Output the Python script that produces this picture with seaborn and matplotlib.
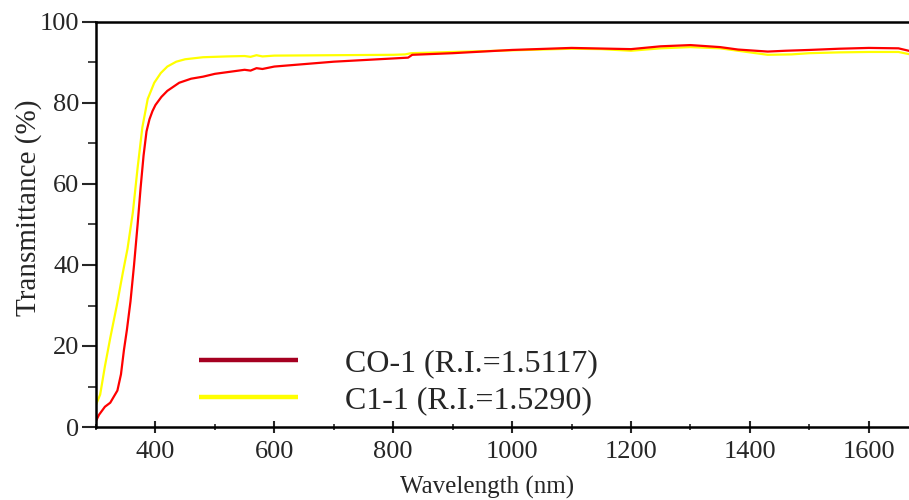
import matplotlib
matplotlib.use("Agg")
import matplotlib.pyplot as plt
import seaborn as sns
import pandas as pd
from matplotlib.lines import Line2D
from matplotlib.ticker import MultipleLocator

sns.set_theme(style="white")
plt.rcParams['font.family'] = ['Liberation Serif', 'DejaVu Serif']

# C1-1 (yellow)
wl_c1 = [300, 307, 315, 324, 335, 345, 353, 362, 370, 378, 387, 398, 409, 420, 435, 450, 480, 520,
         550, 560, 570, 580, 600, 700, 800, 820, 830, 900, 1000, 1100, 1150, 1200, 1250, 1300, 1350,
         1400, 1430, 1470, 1500, 1550, 1600, 1650, 1670, 1683]
t_c1 = [5.5, 8, 15, 22, 30, 38, 44, 53, 64, 74, 81, 85, 87.4, 89, 90.2, 90.8, 91.3, 91.5,
        91.6, 91.4, 91.8, 91.5, 91.7, 91.8, 91.9, 92.0, 92.3, 92.6, 93.0, 93.4, 93.3, 92.9, 93.5, 93.8, 93.5,
        92.5, 91.9, 92.0, 92.3, 92.5, 92.6, 92.6, 92.0, 90.2]

# CO-1 (red)
wl_c0 = [300, 305, 315, 324, 336, 342, 347, 352, 358, 364, 370, 375, 380, 385, 390, 395, 400, 410, 420,
         440, 460, 480, 500, 530, 550, 560, 570, 580, 600, 650, 700, 800, 825, 832, 900, 1000, 1100, 1200,
         1250, 1300, 1350, 1380, 1400, 1430, 1460, 1500, 1550, 1600, 1650, 1670, 1683]
t_c0 = [1.5, 3, 5, 6, 9, 13, 19, 24, 31, 40, 50, 59, 67, 73, 76, 78, 79.5, 81.5, 83,
        85, 86, 86.5, 87.2, 87.8, 88.2, 88.0, 88.6, 88.4, 89, 89.6, 90.2, 91.0, 91.2, 91.9, 92.3, 93.1, 93.6, 93.3,
        94.0, 94.3, 93.8, 93.2, 93.0, 92.7, 92.9, 93.1, 93.4, 93.6, 93.5, 92.8, 91.9]

labels = ["CO-1 (R.I.=1.5117)", "C1-1 (R.I.=1.5290)"]

df0 = pd.DataFrame({"wl": wl_c0, "t": t_c0})
df1 = pd.DataFrame({"wl": wl_c1, "t": t_c1})

fig = plt.figure(figsize=(9.09, 5.0), dpi=100)
ax = fig.add_axes([96/909, 1-427/500, 1-96/909+0.01, (427-22)/500])

sns.lineplot(data=df1, x="wl", y="t", ax=ax, color="#FFFF00", lw=1.6, sort=True)
sns.lineplot(data=df0, x="wl", y="t", ax=ax, color="#FF0000", lw=1.6, sort=True)

ax.set_xlim(300, 1683)
ax.set_ylim(0, 100)
ax.xaxis.set_major_locator(MultipleLocator(200))
ax.xaxis.set_minor_locator(MultipleLocator(100))
ax.yaxis.set_major_locator(MultipleLocator(20))
ax.yaxis.set_minor_locator(MultipleLocator(10))
ax.tick_params(axis='x', which='major', direction='inout', length=8, width=1.5, labelsize=19, pad=6, bottom=True)
ax.tick_params(axis='x', which='minor', direction='inout', length=5, width=1.2, bottom=True)
ax.tick_params(axis='y', which='major', direction='out', length=10, width=1.5, labelsize=19, pad=2, left=True)
ax.tick_params(axis='y', which='minor', direction='out', length=6, width=1.2, left=True)
for s in ['left', 'bottom', 'top']:
    ax.spines[s].set_color('black')
    ax.spines[s].set_linewidth(1.8)
ax.spines['right'].set_visible(False)
ax.set_xlabel("Wavelength (nm)", fontsize=18)
ax.set_ylabel("Transmittance (%)", fontsize=21)
ax.xaxis.set_label_coords(0.4757, -0.121)
ax.yaxis.set_label_coords(-0.066, 0.541)

handles = [Line2D([0], [0], color="#A50021", lw=3.2, solid_capstyle='butt'),
           Line2D([0], [0], color="#FFFF00", lw=3.2, solid_capstyle='butt')]
ax.legend(handles, labels, loc='lower left', bbox_to_anchor=(0.1255, 0.03), frameon=False,
          fontsize=23, handlelength=3.1, handletextpad=1.45, labelspacing=0.22,
          borderaxespad=0, borderpad=0)

fig.savefig("out.png", dpi=100)
